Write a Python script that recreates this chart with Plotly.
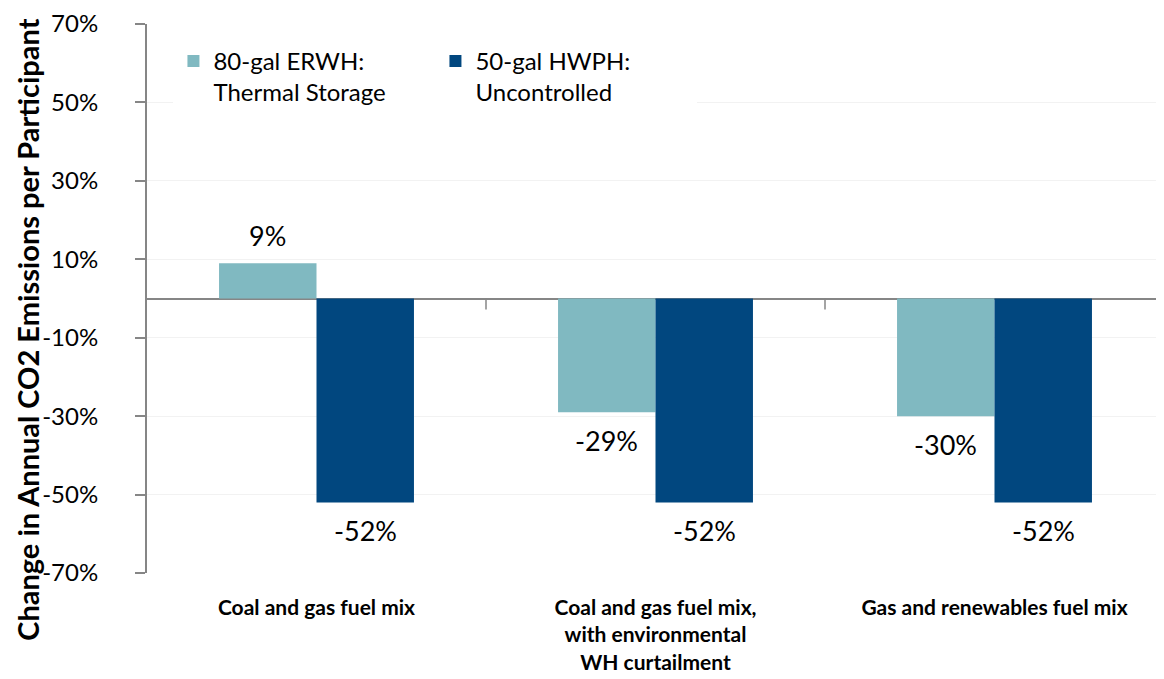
import plotly.graph_objects as go

categories = ["Coal and gas fuel mix",
              "Coal and gas fuel mix,<br>with environmental<br>WH curtailment",
              "Gas and renewables fuel mix"]
erwh_values = [9, -29, -30]
hwph_values = [-52, -52, -52]
series_names = ["80-gal ERWH:<br>Thermal Storage", "50-gal HWPH:<br>Uncontrolled"]
tick_values = [-70, -50, -30, -10, 10, 30, 50, 70]
y_title = "Change in Annual CO2 Emissions per Participant"

FONT = "Lato, 'Open Sans', sans-serif"
TEAL = "#80B9C1"
NAVY = "#01477F"
GREY = "#868686"
BARGAP = 0.425

fig = go.Figure()
x_idx = list(range(len(categories)))
series = [(series_names[0], erwh_values, TEAL), (series_names[1], hwph_values, NAVY)]
n = len(series)
bar_w = (1 - BARGAP) / n
for k, (name, vals, col) in enumerate(series):
    fig.add_trace(go.Bar(
        x=x_idx, y=vals, name=name, marker=dict(color=col, line=dict(width=0)),
    ))
    offset = -(1 - BARGAP) / 2 + bar_w * (k + 0.5)
    for i, v in zip(x_idx, vals):
        fig.add_annotation(x=i + offset, y=v, xref="x", yref="y", text=f"{v}%",
                           showarrow=False, yanchor="middle", yshift=28 if v >= 0 else -28,
                           font=dict(family=FONT, size=27, color="#000000"))

# category boundary ticks on the zero line
for b in [0.5, 1.5]:
    fig.add_shape(type="line", xref="x", yref="y", x0=b, x1=b, y0=0, y1=-2.8,
                  line=dict(color=GREY, width=1.5))

fig.add_annotation(text=f"<b>{y_title}</b>", xref="paper", yref="paper",
                   x=-0.117, y=0.443, xanchor="center", yanchor="middle", textangle=-90,
                   showarrow=False, font=dict(family=FONT, size=29, color="#000000"))

fig.update_layout(
    width=1156, height=671,
    margin=dict(l=139, r=0, t=16, b=106),
    paper_bgcolor="white", plot_bgcolor="white",
    barmode="group", bargap=BARGAP, bargroupgap=0,
    font=dict(family=FONT, color="#000000"),
    legend=dict(orientation="h", x=0.026, y=0.973, xanchor="left", yanchor="top",
                bgcolor="white", font=dict(family=FONT, size=24, color="#000000"),
                itemwidth=30, tracegroupgap=0, entrywidth=217, valign="top"),
    xaxis=dict(range=[-0.5, 2.5], tickvals=x_idx, ticktext=[f"<b>{c}</b>" for c in categories],
               tickfont=dict(family=FONT, size=21, color="#000000"), automargin=False,
               showline=False, ticks="", showgrid=False, zeroline=False, ticklabelstandoff=20),
    yaxis=dict(range=[-70, 70], tickvals=tick_values, ticktext=[f"{v}%" for v in tick_values],
               tickfont=dict(family=FONT, size=24, color="#000000"), automargin=False,
               showline=True, linecolor=GREY, linewidth=2,
               ticks="outside", ticklen=10, tickcolor=GREY, tickwidth=1.5,
               ticklabelstandoff=32,
               showgrid=True, gridcolor="#F2F2F2", gridwidth=1,
               zeroline=True, zerolinecolor=GREY, zerolinewidth=2),
    showlegend=True,
)

fig.write_html("out.html")
